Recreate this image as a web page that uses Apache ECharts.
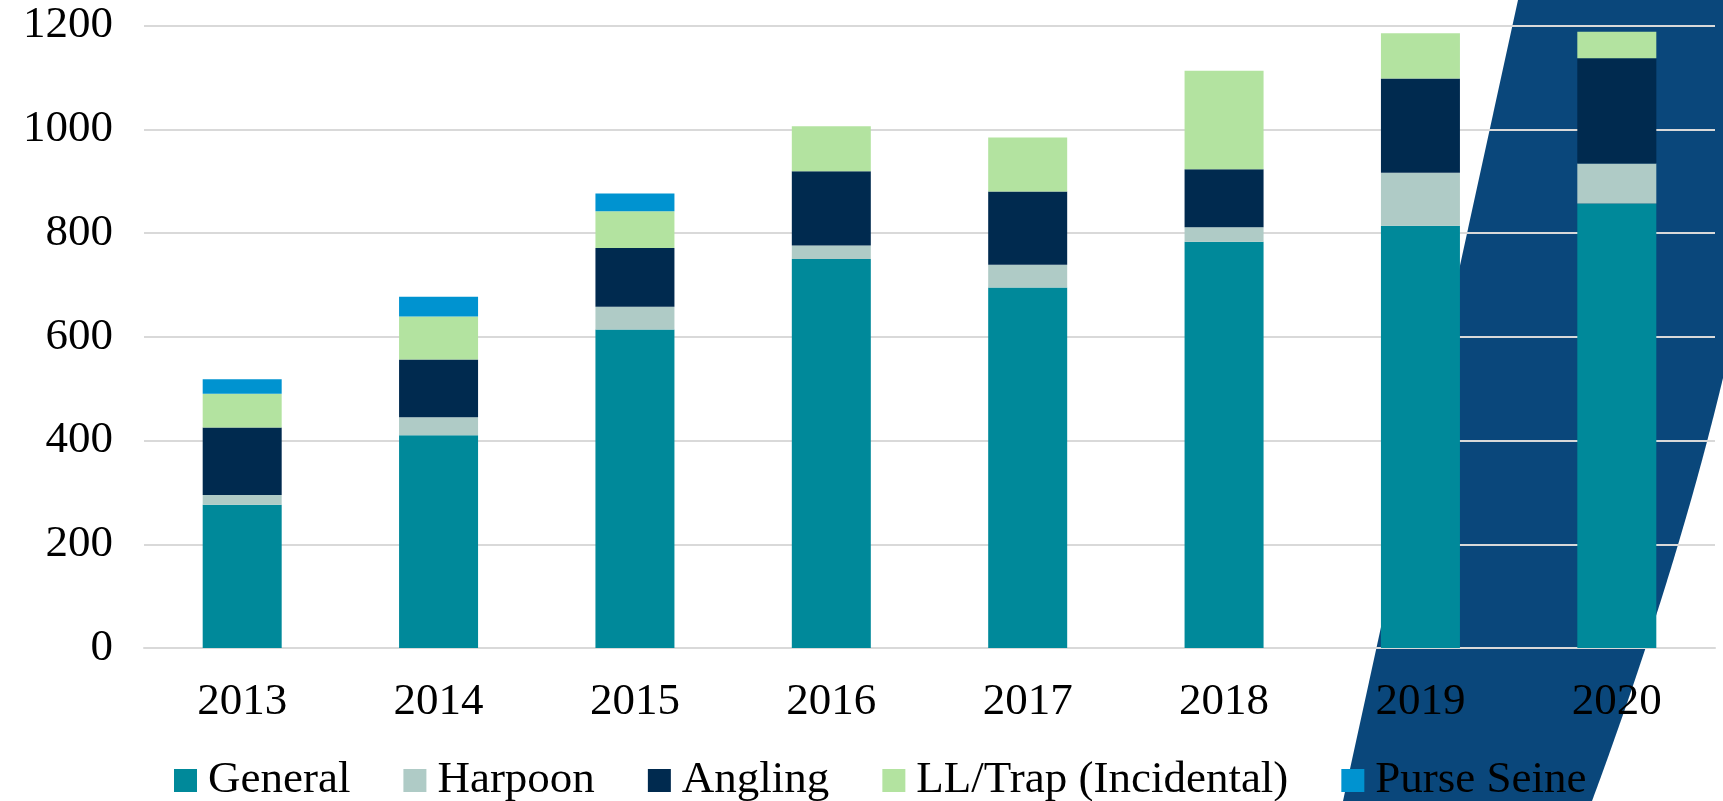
<!DOCTYPE html>
<html>
  <head>
    <meta charset="utf-8" />
    <script src="https://cdn.jsdelivr.net/npm/echarts@6.0.0/dist/echarts.min.js"></script>
    <style>
      body {
        margin: 0;
        background: #ffffff;
      }

      #main {
        width: 1723px;
        height: 801px;
      }
    </style>
  </head>
  <body>
    <div id="main"></div>
    <script>
      const years = ['2013', '2014', '2015', '2016', '2017', '2018', '2019', '2020'];
      const general = [276, 410, 614, 750, 695, 783, 814, 857];
      const harpoon = [19, 35, 44, 26, 44, 28, 102, 77];
      const angling = [130, 111, 113, 143, 141, 112, 182, 203];
      const llTrap = [65, 83, 71, 87, 104, 190, 87, 51];
      const purseSeine = [28, 38, 34, 0, 0, 0, 0, 0];

      const font = 'Liberation Serif';

      const chart = echarts.init(document.getElementById('main'));

      function stacked(name, data, color) {
        return {
          name: name,
          type: 'bar',
          stack: 'total',
          barWidth: 79,
          itemStyle: { color: color },
          data: data,
        };
      }

      // outline of the slanted band; right edge is a gentle quadratic curve
      function bandPoints() {
        const pts = [[1518, 0], [1723, 0]];
        const p0 = [1723, 378], c = [1676, 574], p2 = [1592, 801];
        for (let i = 0; i <= 20; i++) {
          const t = i / 20;
          const a = (1 - t) * (1 - t), b = 2 * t * (1 - t), d = t * t;
          pts.push([a * p0[0] + b * c[0] + d * p2[0], a * p0[1] + b * c[1] + d * p2[1]]);
        }
        pts.push([1343, 801]);
        return pts;
      }

      chart.setOption({
        animation: false,
        textStyle: { fontFamily: font },
        graphic: {
          elements: [
            {
              type: 'polygon',
              z: -10,
              silent: true,
              shape: { points: bandPoints() },
              style: { fill: '#0A477B' },
            },
          ],
        },
        grid: {
          left: 144,
          right: 8,
          top: 25.5,
          bottom: 153,
        },
        legend: {
          left: 169,
          top: 753,
          itemWidth: 23,
          itemHeight: 23,
          itemGap: 53,
          icon: 'rect',
          textStyle: {
            fontFamily: font,
            fontSize: 45,
            color: '#000000',
            padding: [0, 0, 0, 6],
          },
          data: ['General', 'Harpoon', 'Angling', 'LL/Trap (Incidental)', 'Purse Seine'],
        },
        xAxis: {
          type: 'category',
          data: years,
          axisLine: { lineStyle: { color: '#D9D9D9', width: 2 } },
          axisTick: { show: false },
          axisLabel: {
            margin: 32,
            fontFamily: font,
            fontSize: 45,
            color: '#000000',
          },
        },
        yAxis: {
          type: 'value',
          min: 0,
          max: 1200,
          interval: 200,
          axisLine: { show: false },
          axisTick: { show: false },
          splitLine: { lineStyle: { color: '#D9D9D9', width: 2 } },
          axisLabel: {
            margin: 31,
            fontFamily: font,
            fontSize: 45,
            color: '#000000',
            formatter: (v) => String(v),
          },
        },
        series: [
          stacked('General', general, '#00899A'),
          stacked('Harpoon', harpoon, '#AFCBC6'),
          stacked('Angling', angling, '#002A4F'),
          stacked('LL/Trap (Incidental)', llTrap, '#B3E3A0'),
          stacked('Purse Seine', purseSeine, '#0093D0'),
        ],
      });
    </script>
  </body>
</html>
